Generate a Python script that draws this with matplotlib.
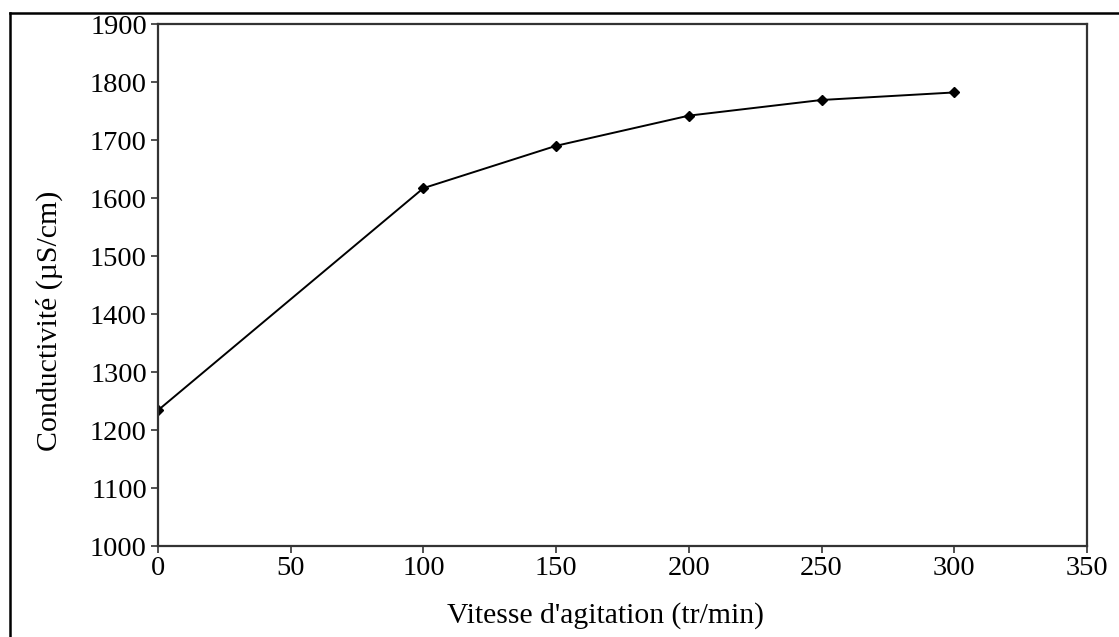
from matplotlib import pyplot as plt
from matplotlib.lines import Line2D

# Conductivité en fonction de la vitesse d'agitation
vitesse = [0, 100, 150, 200, 250, 300]
conductivite = [1234, 1617, 1690, 1742, 1769, 1782]

x_ticks = [0, 50, 100, 150, 200, 250, 300, 350]
y_ticks = [1000, 1100, 1200, 1300, 1400, 1500, 1600, 1700, 1800, 1900]

plt.rcParams['font.family'] = ['Liberation Serif', 'DejaVu Serif']

fig = plt.figure(figsize=(11.19, 6.37), dpi=100)
ax = fig.add_axes([158 / 1119, 1 - 546 / 637, (1087 - 158) / 1119, (546 - 24) / 637])

ax.plot(vitesse, conductivite, color='black', linewidth=1.4,
        marker='D', markersize=5, markerfacecolor='black', markeredgecolor='black')

ax.set_xlim(0, 350)
ax.set_ylim(1000, 1900)
ax.set_xticks(x_ticks)
ax.set_yticks(y_ticks)
ax.tick_params(direction='out', length=5, width=1.2, labelsize=20.5, pad=3, color='#333333')
ax.tick_params(axis='x', pad=2)
for sp in ax.spines.values():
    sp.set_linewidth(1.6)
    sp.set_color('#333333')

ax.set_xlabel("Vitesse d'agitation (tr/min)", fontsize=21.3)
ax.set_ylabel('Conductivité (µS/cm)', fontsize=21.5)
# les titres d'axes ne sont pas centrés dans l'original
ax.xaxis.set_label_coords(0.482, -0.108)
ax.yaxis.set_label_coords(-0.102, 0.431)

# cadre extérieur (haut et gauche visibles)
fig.add_artist(Line2D([10 / 1119, 1.01], [1 - 13 / 637, 1 - 13 / 637],
                      transform=fig.transFigure, color='black', linewidth=1.8))
fig.add_artist(Line2D([10 / 1119, 10 / 1119], [-0.01, 1 - 13 / 637],
                      transform=fig.transFigure, color='black', linewidth=1.8))

fig.savefig('out.png', dpi=100)
